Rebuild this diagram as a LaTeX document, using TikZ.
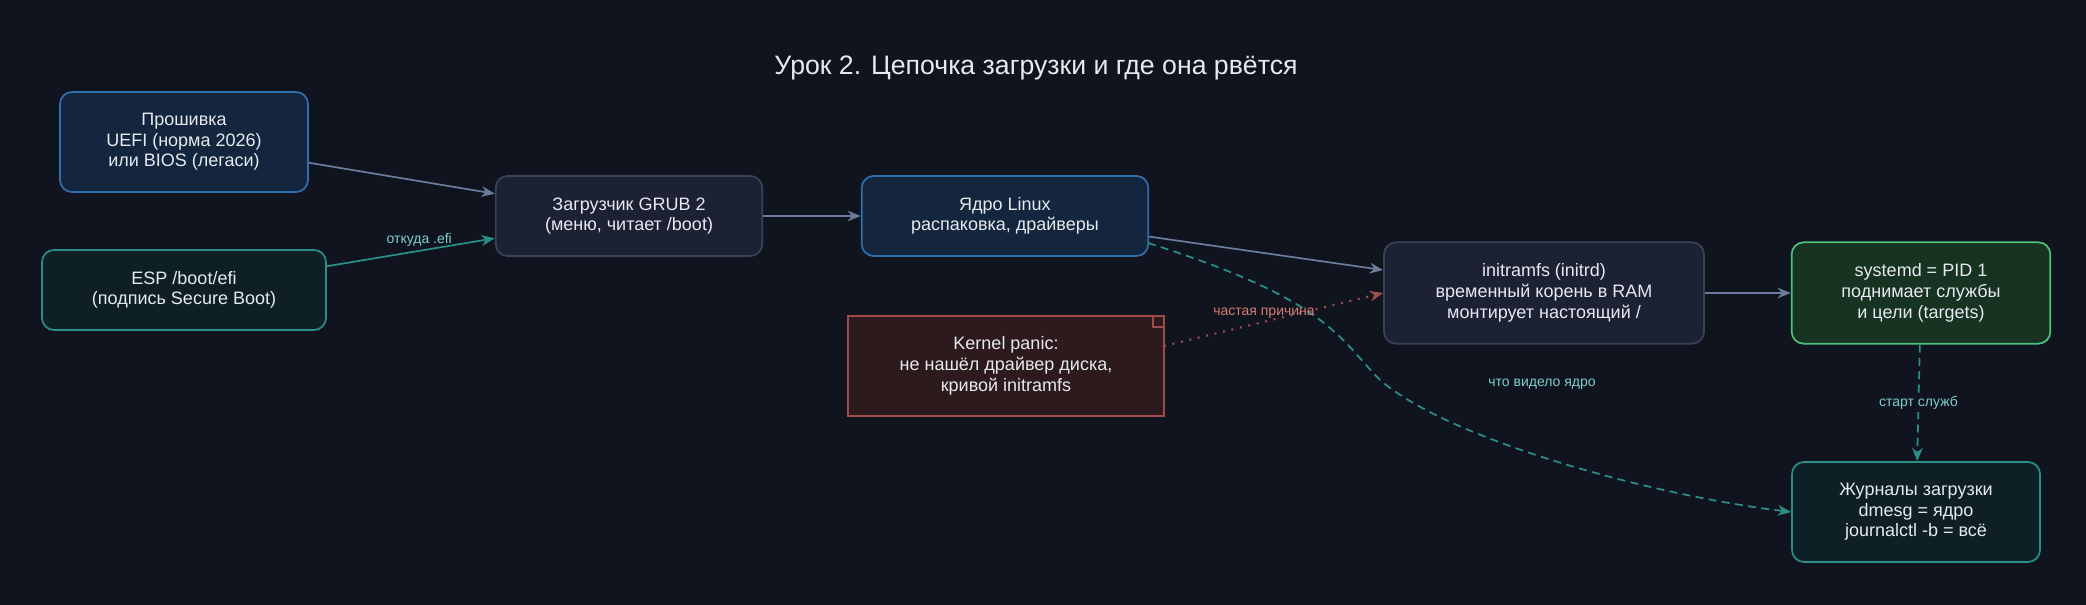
\documentclass[tikz,border=0pt]{standalone}
\usepackage{fontspec}
\setmainfont{Liberation Sans}
\usetikzlibrary{arrows.meta,shapes.misc,shapes.symbols}
\definecolor{bg}{HTML}{10141F}
\definecolor{bluef}{HTML}{13263D}\definecolor{blued}{HTML}{2F6FAE}
\definecolor{tealf}{HTML}{0F1F26}\definecolor{teald}{HTML}{2A8F86}
\definecolor{grayf}{HTML}{1C2133}\definecolor{grayd}{HTML}{3A4258}
\definecolor{greenf}{HTML}{173322}\definecolor{greend}{HTML}{4CC07A}
\definecolor{redf}{HTML}{2D1A1C}\definecolor{redd}{HTML}{A04A4A}
\definecolor{edge}{HTML}{6C7A9C}\definecolor{txt}{HTML}{E6E9F0}
\definecolor{lbl}{HTML}{7FCFC6}\definecolor{rlbl}{HTML}{D87A74}
\tikzset{
 box/.style={rounded corners=9pt,line width=1.3pt,text=txt,align=center,font=\fontsize{13.5}{15.5}\selectfont,inner sep=0pt},
 bbox/.style={box,fill=bluef,draw=blued},
 tbox/.style={box,fill=tealf,draw=teald},
 gbox/.style={box,fill=grayf,draw=grayd},
 grbox/.style={box,fill=greenf,draw=greend},
 conn/.style={draw=edge,line width=1.3pt,-{Stealth[length=10pt,width=8pt]}},
 lab/.style={font=\fontsize{10.5}{12}\selectfont,text=lbl}
}
\begin{document}
\begin{tikzpicture}[x=0.75pt,y=-0.75pt]
\fill[bg] (0,0) rectangle (2086,605);
\node[text=txt,font=\fontsize{20}{24}\selectfont] (title) at (1036,68) {Урок 2. Цепочка загрузки и где она рвётся};
\node[bbox,minimum width=186pt,minimum height=75pt] (fw) at (184,142) {Прошивка\\UEFI (норма 2026)\\или BIOS (легаси)};
\node[tbox,minimum width=213pt,minimum height=60pt] (esp) at (184,290) {ESP /boot/efi\\(подпись Secure Boot)};
\node[gbox,minimum width=200pt,minimum height=60pt] (grub) at (629,216) {Загрузчик GRUB 2\\(меню, читает /boot)};
\node[bbox,minimum width=215pt,minimum height=60pt] (kern) at (1005,216) {Ядро Linux\\распаковка, драйверы};
\node[gbox,minimum width=240pt,minimum height=76pt] (init) at (1544,293) {initramfs (initrd)\\временный корень в RAM\\монтирует настоящий /};
\node[grbox,minimum width=194pt,minimum height=76pt] (sysd) at (1921,293) {systemd = PID 1\\поднимает службы\\и цели (targets)};
\node[tbox,minimum width=186pt,minimum height=75pt] (jour) at (1916,512) {Журналы загрузки\\dmesg = ядро\\journalctl -b = всё};
\node[rectangle,fill=redf,draw=redd,line width=1.3pt,text=txt,align=center,font=\fontsize{13.5}{15.5}\selectfont,minimum width=237pt,minimum height=75pt,inner sep=0pt] (pan) at (1006,366) {Kernel panic:\\не нашёл драйвер диска,\\кривой initramfs};
\draw[redd,line width=1.3pt,fill=redf] ([xshift=-9pt]pan.north east) -- ([xshift=-9pt,yshift=-9pt]pan.north east) -- ([yshift=-9pt]pan.north east);
\draw[conn] (fw) -- (grub);
\draw[conn,draw=teald] (esp) -- node[lab,above,pos=0.55,yshift=-1pt] {откуда .efi} (grub);
\draw[conn] (grub) -- (kern);
\draw[conn] (kern) -- (init);
\draw[conn] (init) -- (sysd);
\draw[conn,draw=teald,dash pattern=on 6pt off 4pt] (sysd) -- node[lab,fill=bg,inner sep=2pt] {старт служб} (jour);
\coordinate (ke) at (1148,243);
\draw[conn,draw=teald,dash pattern=on 6pt off 4pt] (ke) .. controls (1330,300) and (1340,340) .. (1380,380) .. controls (1450,440) and (1650,495) .. (jour.west);
\node[lab] (lk) at (1542,384) {что видело ядро};
\coordinate (pe) at (1164,346);
\draw[conn,draw=redd,dash pattern=on 1.5pt off 5pt,line width=1.6pt] (pe) -- (init.west);
\node[lab,text=rlbl] (lp) at (1264,313) {частая причина};
\end{tikzpicture}
\end{document}
